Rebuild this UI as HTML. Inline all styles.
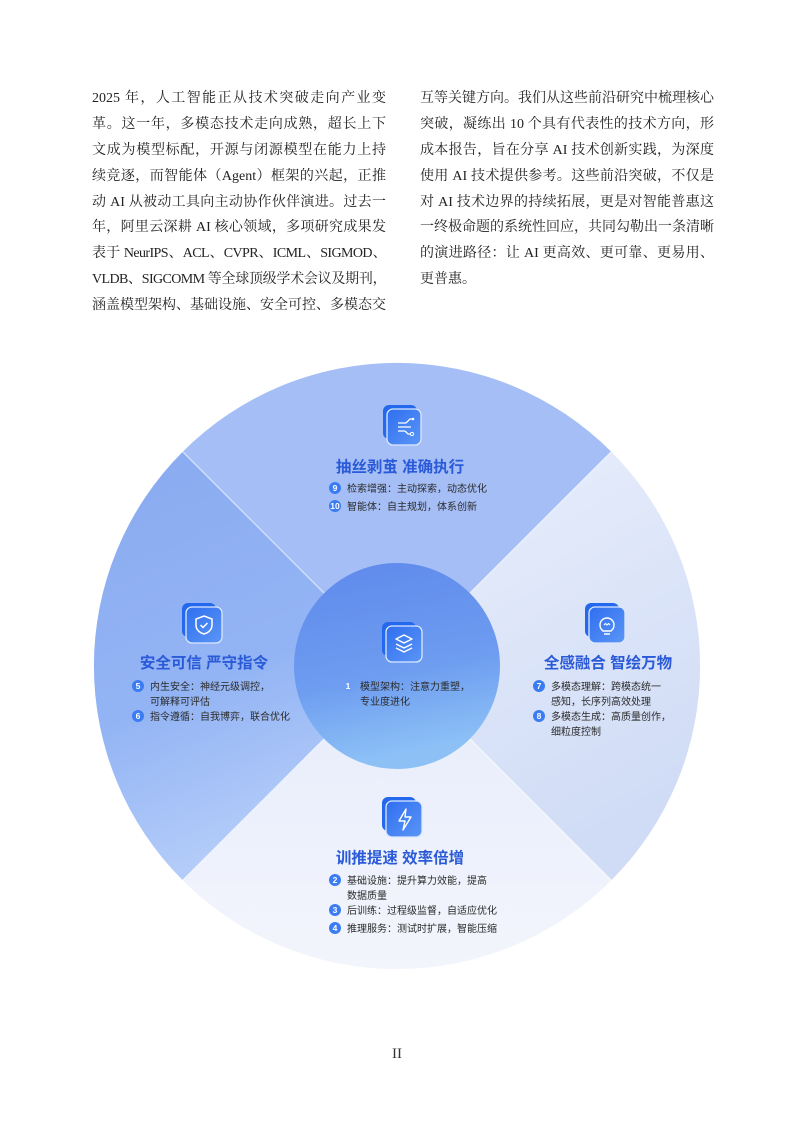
<!DOCTYPE html>
<html><head><meta charset="utf-8">
<style>
body{margin:0;background:#fff;}
.page{position:relative;width:794px;height:1123px;overflow:hidden;background:#fff;}
.col{position:absolute;top:86px;width:294px;font-family:"Liberation Serif","Noto Serif CJK SC",serif;font-size:14px;color:#222;}
.col div{height:25.9px;line-height:25.9px;text-align:justify;text-align-last:justify;white-space:nowrap;}
.col div.l{text-align-last:left;}
.col div.n{letter-spacing:-0.6px;}
.pn{position:absolute;top:1046px;left:0;width:794px;text-align:center;font-family:"Liberation Serif",serif;font-size:15px;color:#333;}
svg text{font-family:"Liberation Sans","Noto Sans CJK SC",sans-serif;}
</style></head><body><div class="page">
<div class="col" style="left:92px">
<div>2025 年，人工智能正从技术突破走向产业变</div>
<div>革。这一年，多模态技术走向成熟，超长上下</div>
<div>文成为模型标配，开源与闭源模型在能力上持</div>
<div>续竞逐，而智能体（Agent）框架的兴起，正推</div>
<div>动 AI 从被动工具向主动协作伙伴演进。过去一</div>
<div>年，阿里云深耕 AI 核心领域，多项研究成果发</div>
<div class="n">表于 NeurIPS、ACL、CVPR、ICML、SIGMOD、</div>
<div class="n">VLDB、SIGCOMM 等全球顶级学术会议及期刊，</div>
<div>涵盖模型架构、基础设施、安全可控、多模态交</div>
</div>
<div class="col" style="left:420px">
<div>互等关键方向。我们从这些前沿研究中梳理核心</div>
<div>突破，凝练出 10 个具有代表性的技术方向，形</div>
<div>成本报告，旨在分享 AI 技术创新实践，为深度</div>
<div>使用 AI 技术提供参考。这些前沿突破，不仅是</div>
<div>对 AI 技术边界的持续拓展，更是对智能普惠这</div>
<div>一终极命题的系统性回应，共同勾勒出一条清晰</div>
<div>的演进路径：让 AI 更高效、更可靠、更易用、</div>
<div class="l">更普惠。</div>
</div>

<svg width="794" height="1123" style="position:absolute;left:0;top:0">
<defs>
<linearGradient id="gL" x1="0" y1="0" x2="0.3" y2="1"><stop offset="0" stop-color="#8aaaf0"/><stop offset="0.6" stop-color="#93b4f4"/><stop offset="1" stop-color="#b5cdf9"/></linearGradient>
<linearGradient id="gR" x1="0" y1="0" x2="0.4" y2="1"><stop offset="0" stop-color="#eaeffb"/><stop offset="1" stop-color="#d0dcf6"/></linearGradient>
<linearGradient id="gB" x1="0" y1="0" x2="0" y2="1"><stop offset="0" stop-color="#e6ecfb"/><stop offset="1" stop-color="#f3f5fc"/></linearGradient>
<linearGradient id="gC" x1="0" y1="0" x2="0.2" y2="1"><stop offset="0" stop-color="#5f89ec"/><stop offset="0.6" stop-color="#6d9cf0"/><stop offset="1" stop-color="#8dc1f6"/></linearGradient>
<linearGradient id="gI" x1="0" y1="0" x2="1" y2="1"><stop offset="0" stop-color="#2f6ff0"/><stop offset="1" stop-color="#5b95f6"/></linearGradient>
</defs>
<path d="M397,666 L182.7,451.7 A303,303 0 0 1 611.3,451.7 Z" fill="#a5bef6"/>
<path d="M397,666 L611.3,451.7 A303,303 0 0 1 611.3,880.3 Z" fill="url(#gR)"/>
<path d="M397,666 L611.3,880.3 A303,303 0 0 1 182.7,880.3 Z" fill="url(#gB)"/>
<path d="M397,666 L182.7,880.3 A303,303 0 0 1 182.7,451.7 Z" fill="url(#gL)"/>
<line x1="182.7" y1="451.7" x2="611.3" y2="880.3" stroke="#fff" stroke-opacity="0.5" stroke-width="1.5"/>
<line x1="611.3" y1="451.7" x2="182.7" y2="880.3" stroke="#fff" stroke-opacity="0.5" stroke-width="1.5"/>
<circle cx="397" cy="666" r="103" fill="url(#gC)"/>

<g transform="translate(383,405)"><rect x="0" y="0" width="34" height="34" rx="6" fill="#2468ee"/><rect x="4" y="4" width="34" height="36" rx="6" fill="url(#gI)" stroke="#dce8ff" stroke-width="1.3"/>
<path d="M15,18h8M15,22h10M15,26h7M23,18l4,-4h3M25,22h3M22,26l3,3h3" stroke="#fff" stroke-width="1.3" fill="none"/><circle cx="30" cy="14" r="1.3" fill="#fff"/><circle cx="29" cy="29" r="1.6" fill="none" stroke="#fff"/></g>
<g transform="translate(182,603)"><rect x="0" y="0" width="34" height="34" rx="6" fill="#2468ee"/><rect x="4" y="4" width="36" height="36" rx="6" fill="url(#gI)" stroke="#dce8ff" stroke-width="1.3"/>
<path d="M22,13l8,3v6c0,5-4,8-8,9c-4-1-8-4-8-9v-6z" fill="none" stroke="#fff" stroke-width="1.5"/><path d="M18.5,22l2.5,2.5l4.5,-4.5" fill="none" stroke="#fff" stroke-width="1.5"/></g>
<g transform="translate(585,603)"><rect x="0" y="0" width="34" height="34" rx="6" fill="#2468ee"/><rect x="4" y="4" width="36" height="36" rx="6" fill="url(#gI)" stroke="#dce8ff" stroke-width="1.3"/>
<path d="M18,28c-2-2-3-3-3-6a7,7 0 0 1 14,0c0,3-1,4-3,6z M19,31h6" fill="none" stroke="#fff" stroke-width="1.4"/><path d="M19,22l1.5,-1.5l1.5,1.5l1.5,-1.5l1.5,1.5" fill="none" stroke="#fff" stroke-width="1.1"/></g>
<g transform="translate(382,622)"><rect x="0" y="0" width="34" height="34" rx="6" fill="#2468ee"/><rect x="4" y="4" width="36" height="36" rx="6" fill="url(#gI)" stroke="#dce8ff" stroke-width="1.3"/>
<path d="M22,13l8,4l-8,4l-8,-4z M14,22l8,4l8,-4 M14,26l8,4l8,-4" fill="none" stroke="#fff" stroke-width="1.4" stroke-linejoin="round"/></g>
<g transform="translate(382,797)"><rect x="0" y="0" width="34" height="34" rx="6" fill="#2468ee"/><rect x="4" y="4" width="36" height="36" rx="6" fill="url(#gI)" stroke="#dce8ff" stroke-width="1.3"/>
<path d="M24,12l-7,12h6l-2,9l8,-13h-6z" fill="none" stroke="#fff" stroke-width="1.4" stroke-linejoin="round"/></g>

<g font-weight="bold" font-size="15.5" fill="#2a5ad8" text-anchor="middle">
<text x="400" y="472">抽丝剥茧 准确执行</text>
<text x="204" y="668">安全可信 严守指令</text>
<text x="608" y="668">全感融合 智绘万物</text>
<text x="400" y="863">训推提速 效率倍增</text>
</g>
<g font-size="10" fill="#2b2b2b">
<g fill="#3b7cf2"><circle cx="335" cy="488" r="6"/><circle cx="335" cy="506" r="6"/>
<circle cx="138" cy="686" r="6"/><circle cx="138" cy="716" r="6"/>
<circle cx="348" cy="686" r="6" fill="#6c9cf4"/>
<circle cx="539" cy="686" r="6"/><circle cx="539" cy="716" r="6"/>
<circle cx="335" cy="880" r="6"/><circle cx="335" cy="910" r="6"/><circle cx="335" cy="928" r="6"/></g>
<g fill="#fff" font-size="8.5" font-weight="bold" text-anchor="middle">
<text x="335" y="491">9</text><text x="335" y="509">10</text>
<text x="138" y="689">5</text><text x="138" y="719">6</text>
<text x="348" y="689">1</text>
<text x="539" y="689">7</text><text x="539" y="719">8</text>
<text x="335" y="883">2</text><text x="335" y="913">3</text><text x="335" y="931">4</text></g>
<text x="347" y="492">检索增强：主动探索，动态优化</text>
<text x="347" y="510">智能体：自主规划，体系创新</text>
<text x="150" y="690">内生安全：神经元级调控，</text>
<text x="150" y="705">可解释可评估</text>
<text x="150" y="720">指令遵循：自我博弈，联合优化</text>
<text x="360" y="690">模型架构：注意力重塑，</text>
<text x="360" y="705">专业度进化</text>
<text x="551" y="690">多模态理解：跨模态统一</text>
<text x="551" y="705">感知，长序列高效处理</text>
<text x="551" y="720">多模态生成：高质量创作，</text>
<text x="551" y="735">细粒度控制</text>
<text x="347" y="884">基础设施：提升算力效能，提高</text>
<text x="347" y="899">数据质量</text>
<text x="347" y="914">后训练：过程级监督，自适应优化</text>
<text x="347" y="932">推理服务：测试时扩展，智能压缩</text>
</g>
</svg>
<div class="pn">II</div>
</div></body></html>
